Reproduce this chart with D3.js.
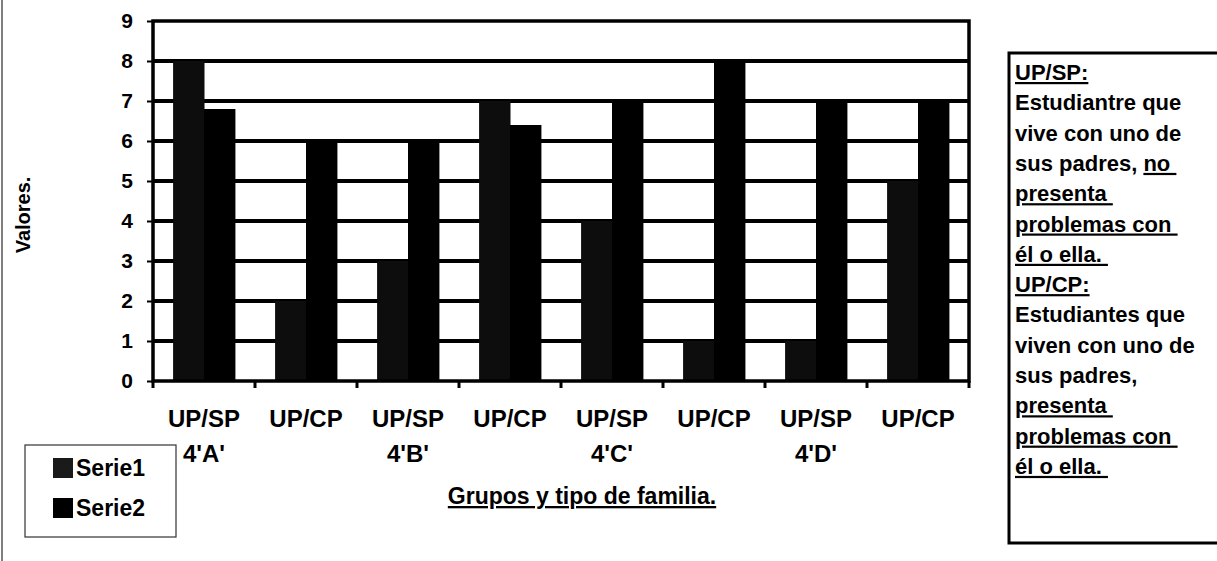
<!DOCTYPE html>
<html>
<head>
<meta charset="utf-8">
<script src="https://cdn.jsdelivr.net/npm/d3@7"></script>
<style>
  body { margin: 0; background: #fff; }
  svg { display: block; font-family: "Liberation Sans", Arial, sans-serif; font-weight: bold; }
</style>
</head>
<body>
<div id="chart"></div>
<script>

// Chart values
const categories = ["UP/SP", "UP/CP", "UP/SP", "UP/CP", "UP/SP", "UP/CP", "UP/SP", "UP/CP"];
const groupLabels = ["4'A'", "", "4'B'", "", "4'C'", "", "4'D'", ""];
const serie1 = [8, 2, 3, 7, 4, 1, 1, 5];
const serie2 = [6.8, 6, 6, 6.4, 7, 8, 7, 7];
const seriesNames = ["Serie1", "Serie2"];
const yTicks = [0, 1, 2, 3, 4, 5, 6, 7, 8, 9];

// text of the note box on the right: each line is a list of [text, underlined]
const noteLines = [
  [["UP/SP:", true]],
  [["Estudiantre que", false]],
  [["vive con uno de", false]],
  [["sus padres, ", false], ["no ", true]],
  [["presenta ", true]],
  [["problemas con ", true]],
  [["él o ella. ", true]],
  [["UP/CP:", true]],
  [["Estudiantes que", false]],
  [["viven con uno de", false]],
  [["sus padres,", false]],
  [["presenta ", true]],
  [["problemas con ", true]],
  [["él o ella. ", true]]
];

// Set dimensions and margins
const width = 1217;
const height = 561;
const margin = {left: 153, right: 248, top: 21, bottom: 180};

const svg = d3.select("#chart")
  .append("svg")
  .attr("width", width)
  .attr("height", height)
  .attr("viewBox", [0, 0, width, height]);

// scales
const yScale = d3.scaleLinear()
  .domain([0, 9])
  .range([height - margin.bottom, margin.top]);

const xScale = d3.scaleBand()
  .domain(d3.range(categories.length))
  .range([margin.left, width - margin.right]);

const xInner = d3.scaleBand()
  .domain(seriesNames)
  .range([0, xScale.bandwidth()])
  .paddingOuter(0.65);

// thin page rule at the far left
svg.append("line")
  .attr("x1", 2).attr("x2", 2)
  .attr("y1", 0).attr("y2", height)
  .attr("stroke", "#555")
  .attr("stroke-width", 1.5);

// horizontal gridlines (thick)
svg.append("g")
  .selectAll("line")
  .data(yTicks.filter(d => d > 0 && d < 9))
  .enter()
  .append("line")
    .attr("x1", margin.left)
    .attr("x2", width - margin.right)
    .attr("y1", d => yScale(d))
    .attr("y2", d => yScale(d))
    .attr("stroke", "#000")
    .attr("stroke-width", 4);

// bars
const rows = categories.map((c, i) => ({i: i, Serie1: serie1[i], Serie2: serie2[i]}));

svg.append("g")
  .selectAll("g")
  .data(rows)
  .enter()
  .append("g")
    .attr("transform", d => `translate(${xScale(d.i)},0)`)
  .selectAll("rect")
  .data(d => seriesNames.map(k => ({key: k, value: d[k]})))
  .enter()
  .append("rect")
    .attr("x", d => xInner(d.key))
    .attr("y", d => yScale(d.value))
    .attr("width", xInner.bandwidth() + 0.5)
    .attr("height", d => yScale(0) - yScale(d.value))
    .attr("fill", d => d.key === "Serie1" ? "#0d0d0d" : "#000");

// frame of the plot area
svg.append("rect")
  .attr("x", margin.left)
  .attr("y", margin.top)
  .attr("width", width - margin.right - margin.left)
  .attr("height", yScale(0) - margin.top)
  .attr("fill", "none")
  .attr("stroke", "#000")
  .attr("stroke-width", 3.5);

// y axis
const yAxis = svg.append("g")
  .attr("transform", `translate(${margin.left},0)`)
  .call(d3.axisLeft(yScale).tickValues(yTicks).tickSize(6).tickPadding(14).tickFormat(d3.format("d")));
yAxis.select(".domain").remove();
yAxis.selectAll("line").attr("stroke", "#000").attr("stroke-width", 2);
yAxis.selectAll("text")
  .attr("font-size", "21px")
  .attr("font-weight", "bold")
  .attr("font-family", "Liberation Sans, Arial, sans-serif")
  .attr("fill", "#000");

// x axis ticks at the category boundaries
svg.append("g")
  .selectAll("line")
  .data(d3.range(categories.length + 1))
  .enter()
  .append("line")
    .attr("x1", i => i < categories.length ? xScale(i) : xScale(i - 1) + xScale.bandwidth())
    .attr("x2", i => i < categories.length ? xScale(i) : xScale(i - 1) + xScale.bandwidth())
    .attr("y1", yScale(0))
    .attr("y2", yScale(0) + 7)
    .attr("stroke", "#000")
    .attr("stroke-width", 3);

// x labels (two rows)
svg.append("g")
  .selectAll("text")
  .data(categories)
  .enter()
  .append("text")
    .attr("x", (d, i) => xScale(i) + xScale.bandwidth() / 2)
    .attr("y", 427)
    .attr("text-anchor", "middle")
    .attr("font-size", "24px")
    .text(d => d);

svg.append("g")
  .selectAll("text")
  .data(groupLabels)
  .enter()
  .append("text")
    .attr("x", (d, i) => xScale(i) + xScale.bandwidth() / 2)
    .attr("y", 462)
    .attr("text-anchor", "middle")
    .attr("font-size", "24px")
    .text(d => d);

// axis titles
svg.append("text")
  .attr("transform", "translate(30,215) rotate(-90)")
  .attr("text-anchor", "middle")
  .attr("font-size", "20px")
  .text("Valores.");

svg.append("text")
  .attr("x", 582)
  .attr("y", 504)
  .attr("text-anchor", "middle")
  .attr("font-size", "23px")
  .attr("text-decoration", "underline")
  .text("Grupos y tipo de familia.");

// legend
const legend = svg.append("g");
legend.append("rect")
  .attr("x", 25).attr("y", 445)
  .attr("width", 151).attr("height", 92)
  .attr("fill", "#fff")
  .attr("stroke", "#333")
  .attr("stroke-width", 1.2);

const legendItem = legend.selectAll(".item")
  .data(seriesNames)
  .enter()
  .append("g")
    .attr("class", "item")
    .attr("transform", (d, i) => `translate(53,${458 + i * 40})`);

legendItem.append("rect")
  .attr("width", 20).attr("height", 20)
  .attr("fill", d => d === "Serie1" ? "#1a1a1a" : "#000");

legendItem.append("text")
  .attr("x", 23)
  .attr("y", 18)
  .attr("font-size", "23px")
  .text(d => d);

// note box on the right (its right side runs off the page)
const note = svg.append("g");
note.append("rect")
  .attr("x", 1009).attr("y", 53)
  .attr("width", 215).attr("height", 490)
  .attr("fill", "#fff")
  .attr("stroke", "#000")
  .attr("stroke-width", 3);

const noteText = note.append("text")
  .attr("font-size", "22px")
  .style("white-space", "pre");

noteLines.forEach((line, i) => {
  line.forEach((part, j) => {
    const t = noteText.append("tspan")
      .attr("text-decoration", part[1] ? "underline" : null)
      .text(part[0]);
    if (j === 0) t.attr("x", 1015).attr("y", 80 + i * 30.3);
  });
});

</script>
</body>
</html>
